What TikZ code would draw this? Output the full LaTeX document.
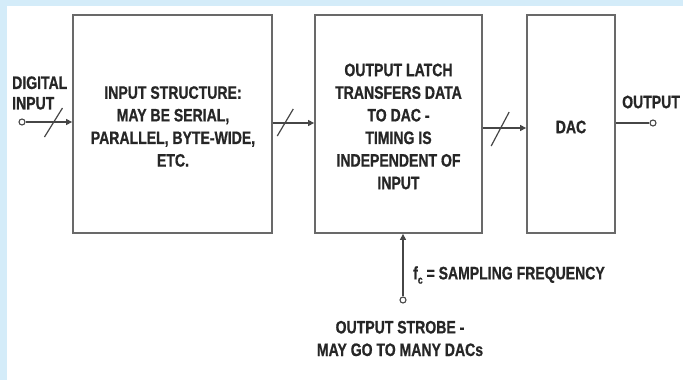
\documentclass[tikz,border=0pt]{standalone}
\usepackage{fontspec}
\setmainfont[FakeStretch=0.78, BoldFeatures={FakeBold=0.8}]{Liberation Sans}
\usetikzlibrary{arrows.meta}
\definecolor{pagebg}{RGB}{212,236,249}
\definecolor{boxline}{RGB}{105,105,105}
\definecolor{wire}{RGB}{70,70,70}
\tikzset{
  block/.style={draw=boxline, line width=1.8pt, fill=white, inner sep=0pt},
  lbl/.style={font=\bfseries\fontsize{18}{22.6}\selectfont, text=black!85, align=center, inner sep=0pt},
  sig/.style={draw=wire, line width=1.2pt, -{Triangle[length=6pt,width=6pt]}},
  bus/.style={draw=wire, line width=1.2pt},
  port/.style={circle, draw=wire, line width=1.1pt, fill=white, minimum size=6pt, inner sep=0pt}
}
\begin{document}
\begin{tikzpicture}[x=1pt, y=-1pt]
  % page background with white panel
  \fill[pagebg] (0,0) rectangle (683,380);
  \fill[white] (7,6) rectangle (683,380);
  \useasboundingbox (0,0) rectangle (683,380);

  % blocks
  \node[block, minimum width=199pt, minimum height=218pt] (inp) at (172.5,124) {};
  \node[block, minimum width=167pt, minimum height=218pt] (latch) at (398.5,124) {};
  \node[block, minimum width=88pt, minimum height=218pt] (dac) at (571,124) {};

  % block texts
  \node[lbl] (inptxt) at (173,126.5) {INPUT STRUCTURE:\\MAY BE SERIAL,\\PARALLEL, BYTE-WIDE,\\ETC.};
  \node[lbl] (latchtxt) at (398.5,126.5) {OUTPUT LATCH\\TRANSFERS DATA\\TO DAC -\\TIMING IS\\INDEPENDENT OF\\INPUT};
  \node[lbl] (dactxt) at (571,127) {DAC};

  % ports
  \node[port] (din) at (22,122) {};
  \node[port] (dout) at (653,123) {};
  \node[port] (strobe) at (403,300) {};

  % digital input bus
  \draw[sig] (din) -- (din -| inp.west) coordinate[pos=0.6] (s1);
  \draw[bus] ([shift={(-9,15)}]s1) -- ([shift={(9,-14)}]s1);
  \node[lbl, anchor=west, align=left, font=\bfseries\fontsize{18}{20.5}\selectfont] (dinlbl) at (12,93) {DIGITAL\\INPUT};

  % bus between input structure and latch
  \coordinate (b2) at (inp.east |- 0,123);
  \draw[sig] (b2) -- (b2 -| latch.west) coordinate[pos=0.3] (s2);
  \draw[bus] ([shift={(-8,13)}]s2) -- ([shift={(8,-14)}]s2);

  % bus between latch and DAC
  \coordinate (b3) at (latch.east |- 0,128);
  \draw[sig] (b3) -- (b3 -| dac.west) coordinate[pos=0.4] (s3);
  \draw[bus] ([shift={(-9,18)}]s3) -- ([shift={(9,-16)}]s3);

  % analog output
  \draw[bus] (dout) -- (dout -| dac.east);
  \node[lbl, anchor=west] (doutlbl) at (622,102) {OUTPUT};

  % output strobe
  \draw[sig] (strobe) -- (strobe |- latch.south);
  \node[lbl, anchor=west] (fclbl) at (413,275) {f\raisebox{-0.45ex}{\fontsize{11}{11}\selectfont c} = SAMPLING FREQUENCY};
  \node[lbl] (strobelbl) at (400,338.5) {OUTPUT STROBE -\\MAY GO TO MANY DACs};
\end{tikzpicture}
\end{document}
